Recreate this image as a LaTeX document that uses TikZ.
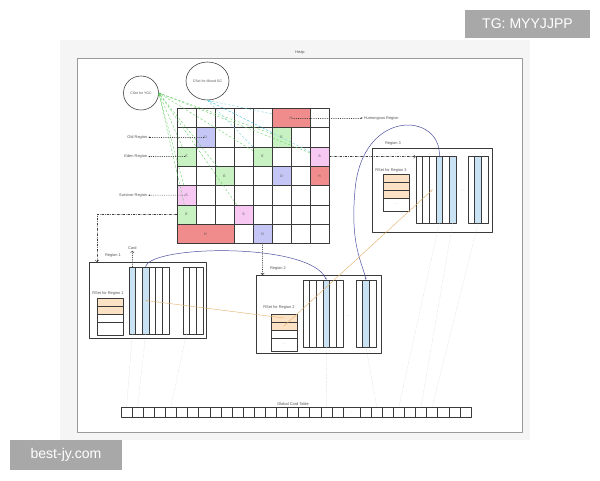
\documentclass[tikz,border=0pt]{standalone}
\usepackage{fontspec}
\setmainfont{Liberation Sans}
\usetikzlibrary{arrows.meta, calc, positioning, shapes.geometric}
\definecolor{panelgray}{HTML}{F5F5F5}
\definecolor{framegray}{HTML}{9A9A9A}
\definecolor{gridline}{HTML}{3A3A3A}
\definecolor{txtgray}{HTML}{555555}
\definecolor{hred}{HTML}{F08C8C}
\definecolor{egreen}{HTML}{C8F2C2}
\definecolor{opurple}{HTML}{C6C6F6}
\definecolor{spink}{HTML}{F6C8F2}
\definecolor{cardblue}{HTML}{C9E2F4}
\definecolor{rsetorange}{HTML}{FBE2C4}
\definecolor{ptrblue}{HTML}{4B4F9C}
\definecolor{ptrorange}{HTML}{E3B26C}
\definecolor{ygcgreen}{HTML}{5ACB5A}
\definecolor{mixcyan}{HTML}{6ACFE0}
\definecolor{cardline}{HTML}{C8C8C8}
\definecolor{wmgray}{HTML}{A8A8A8}
\newcommand{\lblfont}{\fontsize{5.6}{6.5}\selectfont}
\newcommand{\cellfont}{\fontsize{5}{6}\selectfont}
\newcommand{\markfont}{\fontsize{20}{24}\selectfont}
\tikzset{
  >={Stealth[length=3pt]},
  every picture/.style={line cap=round, line join=round},
  lbl/.style={font=\lblfont, text=txtgray, inner sep=1pt},
  % heap regions, 19 x 19.3 px
  cell/.style={draw=gridline, line width=0.8pt, minimum width=9.5mm, minimum height=9.65mm, inner sep=0pt, font=\cellfont, text=txtgray},
  regionbox/.style={draw=gridline, line width=0.7pt, fill=white, inner sep=0pt, anchor=north west},
  cardcol/.style={draw=gridline, line width=0.7pt, minimum width=3.33mm, minimum height=33.5mm, inner sep=0pt},
  rsetrow/.style={draw=gridline, line width=0.7pt, minimum width=13mm, minimum height=4mm, inner sep=0pt, font=\cellfont, text=gray!60},
  gctcell/.style={draw=gridline, line width=0.7pt, minimum width=5.55mm, minimum height=5mm, inner sep=0pt, font=\cellfont, text=gray!60},
  cset/.style={ellipse, draw=gridline, line width=0.8pt, fill=white, inner sep=0pt, font=\cellfont, text=txtgray},
  ygcline/.style={ygcgreen, dashed, line width=0.5pt, ->},
  mixline/.style={mixcyan, dashed, line width=0.5pt, ->},
  kindarrow/.style={gridline, dotted, line width=0.6pt, -{Latex[length=3pt]}, shorten <=2.5pt},
  regionarrow/.style={gridline, dash dot, line width=0.5pt, -{Straight Barb[length=2.5pt]}},
  dotarrow/.style={gridline, dotted, line width=0.6pt, -{Straight Barb[length=2.5pt]}},
  refptr/.style={ptrblue, line width=0.7pt, ->},
  rsetptr/.style={ptrorange, line width=0.6pt, ->},
  gctline/.style={cardline, dotted, line width=0.5pt},
  watermark/.style={fill=wmgray, text=white, font=\markfont, inner sep=0pt},
}

\begin{document}
\begin{tikzpicture}[x=0.5mm, y=-0.5mm]
  \useasboundingbox (0,0) rectangle (600,480);
  \fill[white] (0,0) rectangle (600,480);
  \fill[panelgray] (60,40) rectangle (530,440);
  % heap frame
  \node[draw=framegray, line width=1.2pt, fill=white, minimum width=222.5mm, minimum height=187mm, inner sep=0pt, anchor=north west] (heap) at (77,58) {};
  \node[lbl, above=1.2mm of heap.north] (heaplbl) {Heap};
  % 8 x 7 region grid
  \foreach \col in {0,...,7}
    \foreach \row in {0,...,6}
      \node[cell] (c\col\row) at (186.5+19*\col, 118+19.3*\row) {};
  \node[cell, fill=hred, minimum width=19mm] (h1) at ($(c50)!0.5!(c60)$) {H};
  \node[cell, fill=opurple] (o1) at (c11) {O};
  \node[cell, fill=egreen] (e1) at (c51) {E};
  \node[cell, fill=egreen] (e2) at (c02) {E};
  \node[cell, fill=egreen] (e3) at (c42) {E};
  \node[cell, fill=spink] (s1) at (c72) {S};
  \node[cell, fill=egreen] (e4) at (c23) {E};
  \node[cell, fill=opurple] (o2) at (c53) {O};
  \node[cell, fill=hred] (h2) at (c73) {H};
  \node[cell, fill=spink] (s2) at (c04) {S};
  \node[cell, fill=egreen] (e5) at (c05) {E};
  \node[cell, fill=spink] (s3) at (c35) {S};
  \node[cell, fill=hred, minimum width=28.5mm] (h3) at (c16) {H};
  \node[cell, fill=opurple] (o3) at (c46) {O};
  % collection sets
  \node[cset, minimum width=17.5mm, minimum height=17mm] (ygc) at (141,93) {CSet for YGC};
  \node[cset, minimum width=21.5mm, minimum height=19mm] (mgc) at (207.5,81) {CSet for Mixed GC};
  \foreach \yc in {e1,e2,e3,e4,e5,s1,s2,s3}
    \draw[ygcline] (\yc) -- (ygc.east);
  \foreach \mc in {h1,e1,e3,s1}
    \draw[mixline] (\mc) -- (mgc.south);
  % region kinds
  \node[lbl, anchor=east] (oldlbl) at (148,137.3) {Old Region};
  \node[lbl, anchor=east] (edenlbl) at (148,156.6) {Eden Region};
  \node[lbl, anchor=east] (survlbl) at (148,195.2) {Survivor Region};
  \node[lbl, anchor=west] (humlbl) at (363,118) {Humongous Region};
  \draw[kindarrow] (o1.center) -- (oldlbl.east);
  \draw[kindarrow] (e2.center) -- (edenlbl.east);
  \draw[kindarrow] (s2.center) -- (survlbl.east);
  \draw[kindarrow] (h1.center) -- (humlbl.west);
  % region 1
  \node[regionbox, minimum width=58.5mm, minimum height=38mm] (r1box) at (89,262) {};
  \begin{scope}[shift={(89,262)}]
    \node[lbl] (r1lbl) at (24,-7) {Region 1};
    \node[lbl] (r1slbl) at (19,31) {RSet for Region 1};
    \foreach \i/\f in {0/cardblue,1/white,2/cardblue,3/white,4/white,5/white}
      \node[cardcol, fill=\f] (r1a\i) at (43.33+6.667*\i, 38.5) {};
    \foreach \i in {0,1,2}
      \node[cardcol] (r1b\i) at (97.33+6.667*\i, 38.5) {};
    \foreach \i/\f in {0/rsetorange,1/rsetorange,2/white}
      \node[rsetrow, fill=\f] (r1s\i) at (21,40+8*\i) {};
    \node[rsetrow, minimum height=6.5mm] (r1s3) at (21,66.5) {};
  \end{scope}
  \node[lbl, above=8mm of r1a0] (cardlbl) {Card};
  \draw[dotarrow] (r1a0.north) -- (cardlbl.south);
  % region 2
  \node[regionbox, minimum width=62.5mm, minimum height=39mm] (r2box) at (256,275) {};
  \begin{scope}[shift={(256,275)}]
    \node[lbl] (r2lbl) at (22,-7) {Region 2};
    \node[lbl] (r2slbl) at (23,32) {RSet for Region 2};
    \foreach \i/\f in {0/white,1/white,2/white,3/cardblue,4/white,5/white}
      \node[cardcol, fill=\f] (r2a\i) at (50.33+6.667*\i, 38.5) {};
    \foreach \i/\f in {0/white,1/cardblue,2/white}
      \node[cardcol, fill=\f] (r2b\i) at (103.33+6.667*\i, 38.5) {};
    \node[lbl, text=gray!60] (r2gap) at (93,41) {...};
    \foreach \i/\f in {0/rsetorange,1/rsetorange,2/white}
      \node[rsetrow, fill=\f] (r2s\i) at (28,43+8*\i) {};
    \node[rsetrow, minimum height=6.5mm] (r2s3) at (28,69.5) {...};
  \end{scope}
  % region 3
  \node[regionbox, minimum width=60mm, minimum height=42mm] (r3box) at (372,148) {};
  \begin{scope}[shift={(372,148)}]
    \node[lbl] (r3lbl) at (21,-5) {Region 3};
    \node[lbl] (r3slbl) at (19,22) {RSet for Region 3};
    \foreach \i/\f in {0/white,1/white,2/white,3/cardblue,4/white,5/cardblue}
      \node[cardcol, fill=\f] (r3a\i) at (47.33+6.667*\i, 41.5) {};
    \foreach \i/\f in {0/white,1/cardblue,2/white}
      \node[cardcol, fill=\f] (r3b\i) at (99.33+6.667*\i, 41.5) {};
    \node[lbl, text=gray!60] (r3gap) at (91,42) {...};
    \foreach \i/\f in {0/rsetorange,1/rsetorange,2/rsetorange}
      \node[rsetrow, fill=\f] (r3s\i) at (24,30+8*\i) {};
    \node[rsetrow, minimum height=6.5mm] (r3s3) at (24,56.5) {...};
  \end{scope}
  % global card table
  \foreach \i in {1,...,20}
    \node[gctcell] (g\i) at (115.45+11.1*\i, 412) {};
  \node[gctcell, minimum width=8.5mm] (gdots) at (351.5,412) {...};
  \foreach \i in {1,...,10}
    \node[gctcell] (k\i) at (354.45+11.1*\i, 412) {};
  \node[lbl, above=0.3mm of g16] (gctlbl) {Global Card Table};
  \draw[gctline] (r1a0.south) -- (g1.north);
  \draw[gctline] (r1a2.south) -- (g2.north);
  \draw[gctline] (r1b0.south) -- (g5.north);
  \draw[gctline] (r2a3.south) -- (g19.north);
  \draw[gctline] (r2b1.south) -- (k2.north);
  \draw[gctline] (r3a3.south) -- (k4.north);
  \draw[gctline] (r3a5.south) -- (k6.north);
  \draw[gctline] (r3b1.south) -- (k7.north);
  % where the regions sit in the heap
  \draw[regionarrow] (s1.east) -- (s1.east -| r3a0.west);
  \coordinate (r1in) at ($(r1box.north west)+(8,0)$);
  \draw[regionarrow] (e5.west) -| (r1in);
  \draw[dotarrow] (o3.south) -- (o3.south |- r2box.north);
  % card references and rset entries
  \draw[refptr] (r1a2.north) .. controls (150,245) and (310,242) .. (r2a3.north);
  \draw[refptr] (r3a3.north) .. controls (441,112) and (362,108) .. (355,190) .. controls (350,245) and (362,262) .. (r2b1.north);
  \draw[rsetptr] (r2s0.center) -- (r1a2.center);
  \draw[rsetptr] (r2s1.center) -- (r3a2.center);
  % watermarks
  \node[watermark, minimum width=62.5mm, minimum height=14mm] (tgmark) at (527.5,24) {TG: MYYJJPP};
  \node[watermark, minimum width=56mm, minimum height=15mm] (sitemark) at (66,455) {best-jy.com};
\end{tikzpicture}
\end{document}
